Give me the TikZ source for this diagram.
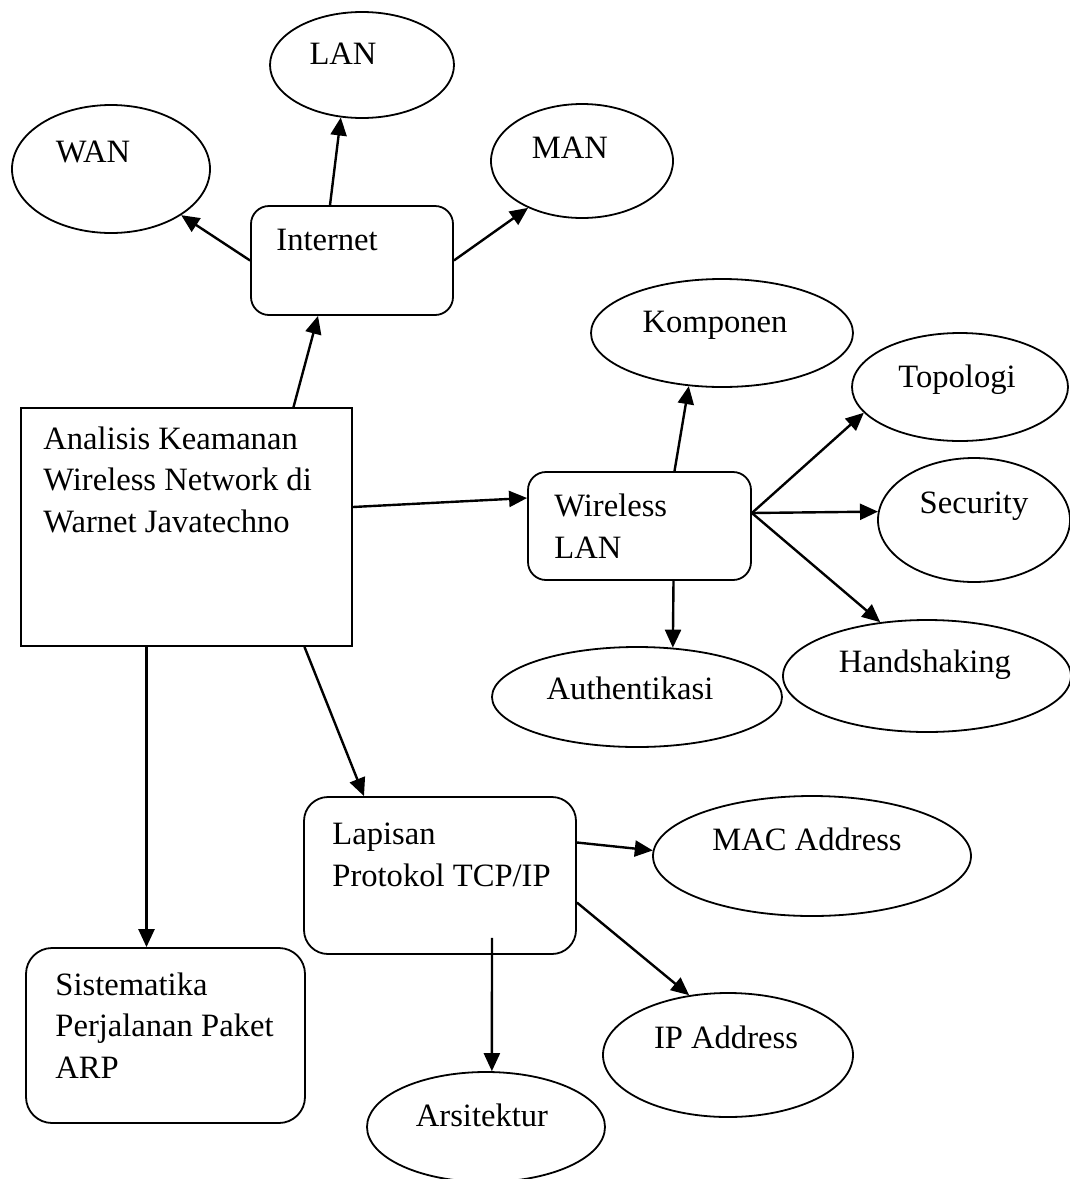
\documentclass[tikz,border=0pt]{standalone}
\usepackage{fontspec}
\setmainfont{Liberation Serif}
\usetikzlibrary{shapes.geometric,arrows.meta,calc}
\newcommand{\diagfont}{\fontsize{16.3pt}{20.75pt}\selectfont}
\begin{document}
\begin{tikzpicture}[x=0.5pt, y=-0.5pt,
    box/.style={draw, line width=0.9pt, inner sep=0pt},
    oval/.style={draw, ellipse, line width=0.9pt, inner sep=0pt},
    lbl/.style={font=\diagfont, inner sep=0pt, anchor=base},
    para/.style={font=\diagfont, inner sep=0pt, align=left, anchor=base west},
    arr/.style={-{Triangle[length=9pt, width=8pt]}, line width=1.2pt}]
  \useasboundingbox (0,0) rectangle (1070,1179);
  % boxes
  \node[box, minimum width=165.5pt, minimum height=119pt] (main) at (186.5,527) {};
  \node[box, rounded corners=9pt, minimum width=101pt, minimum height=54.5pt] (inet) at (352,260.5) {};
  \node[box, rounded corners=9pt, minimum width=111.5pt, minimum height=54pt] (wlan) at (639.5,526) {};
  \node[box, rounded corners=12pt, minimum width=136pt, minimum height=78.5pt] (lap) at (440,875.5) {};
  \node[box, rounded corners=13pt, minimum width=139.5pt, minimum height=87.5pt] (sis) at (165.5,1035.5) {};
  % box texts, placed on the baseline of the last line
  \node[para] (main-t) at (43,532) {Analisis Keamanan\\Wireless Network di\\Warnet Javatechno};
  \node[para] (inet-t) at (276,250) {Internet};
  \node[para] (wlan-t) at (554,558) {Wireless\\LAN};
  \node[para] (lap-t) at (332,886) {Lapisan\\Protokol TCP/IP};
  \node[para] (sis-t) at (55,1078) {Sistematika\\Perjalanan Paket\\ARP};
  % ovals: name/x/y/half width/half height
  \foreach \n/\x/\y/\w/\h in {lan/362/65/92/53, wan/111/169/99/64, man/582/161/91/57,
      komp/722/333/131/54, topo/960/387/108/54, secu/974/520/96/62, hand/927/676/144/56,
      auth/637/697/145/50, mac/812/856/159/60, ipad/728/1055/125/62, arsi/486/1127/119/55}
    \node[oval, minimum width=\w pt, minimum height=\h pt] (\n) at (\x,\y) {};
  % oval texts
  \node[lbl] (lan-t) at (343,64) {LAN};
  \node[lbl] (wan-t) at (93,162) {WAN};
  \node[lbl] (man-t) at (570,158) {MAN};
  \node[lbl] (komp-t) at (715,332) {Komponen};
  \node[lbl] (topo-t) at (957,387) {Topologi};
  \node[lbl] (secu-t) at (974,513) {Security};
  \node[lbl] (hand-t) at (925,672) {Handshaking};
  \node[lbl] (auth-t) at (630,699) {Authentikasi};
  \node[lbl] (mac-t) at (807,850) {MAC Address};
  \node[lbl] (ipad-t) at (726,1048) {IP Address};
  \node[lbl] (arsi-t) at (482,1126) {Arsitektur};
  % arrows around Internet
  \draw[arr] ($(main.north)+(107,0)$) -- ($(inet.south)+(-34,0)$);
  \draw[arr] (inet.west) -- (wan);
  \draw[arr] ($(inet.north)+(-22,0)$) -- (lan.-112);
  \draw[arr] (inet.east) -- (man.-139);
  % arrows around Wireless LAN
  \draw[arr] ($(main.east)+(0,-20)$) -- ($(wlan.west)+(0,-28)$);
  \draw[arr] ($(wlan.north)+(35,0)$) -- (komp.-122);
  \coordinate (wl-out) at ($(wlan.east)+(0,-13)$);
  \draw[arr] (wl-out) -- (topo.-165);
  \draw[arr] (wl-out) -- (secu.175);
  \draw[arr] (wl-out) -- (hand.131);
  \draw[arr] ($(wlan.south)+(34,0)$) -- (auth.54);
  % arrows down from the main box
  \draw[arr] ($(main.south)+(-40,0)$) coordinate (s1) -- (s1 |- sis.north);
  \draw[arr] ($(main.south)+(118,0)$) -- ($(lap.north)+(-76,0)$);
  % arrows around TCP/IP
  \draw[arr] ($(lap.east)+(0,-33)$) -- (mac.178);
  \draw[arr] ($(lap.east)+(0,27)$) -- (ipad.123);
  \draw[arr] ($(lap.south)+(52,-17)$) -- (arsi.84);
\end{tikzpicture}
\end{document}
